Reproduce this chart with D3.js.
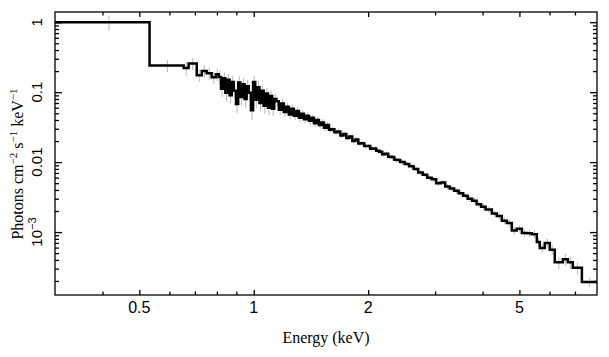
<!DOCTYPE html>
<html><head><meta charset="utf-8">
<script src="https://cdn.jsdelivr.net/npm/d3@7"></script>
<style>body{margin:0;background:#fff}svg{display:block}</style>
</head><body><svg id="c" width="609" height="357"></svg>
<script>
// Bin edges (keV)
const edges = [
 0.30, 0.532, 0.654, 0.674, 0.708, 0.730, 0.752, 0.775, 0.795,
 0.809, 0.820, 0.831, 0.842, 0.853, 0.864, 0.875, 0.886, 0.898, 0.910, 0.922, 0.934, 0.946, 0.958, 0.970, 0.983, 0.996, 1.009, 1.022, 1.035, 1.048, 1.062, 1.076, 1.090, 1.104, 1.118, 1.132,
 1.146, 1.164, 1.182, 1.200, 1.218, 1.237, 1.256, 1.275, 1.295, 1.315, 1.335, 1.355, 1.376, 1.397, 1.418, 1.440, 1.462, 1.484, 1.507, 1.530, 1.553, 1.577,
 1.601, 1.630, 1.660, 1.690, 1.721, 1.752, 1.784, 1.817, 1.850, 1.884, 1.918, 1.953, 1.989, 2.025, 2.062, 2.100, 2.139, 2.178, 2.218, 2.258, 2.300, 2.342, 2.385,
 2.428, 2.495, 2.564, 2.635, 2.708, 2.783, 2.860, 2.939, 3.020, 3.103, 3.189, 3.277, 3.367, 3.460, 3.556, 3.654, 3.755, 3.858, 3.965,
 4.074, 4.23, 4.36, 4.494, 4.633, 4.775, 4.92, 5.075, 5.23, 5.39, 5.556, 5.657, 5.83, 6.01, 6.195, 6.505, 6.705, 6.91, 7.30, 8.0
];
// Unfolded flux per bin (photons cm^-2 s^-1 keV^-1)
const flux = [
 1.0, 0.24, 0.222, 0.257, 0.175, 0.20, 0.187, 0.164, 0.18,
 0.165, 0.112, 0.158, 0.098, 0.150, 0.090, 0.140, 0.105, 0.068, 0.138, 0.085, 0.130, 0.080, 0.122, 0.098, 0.055, 0.140, 0.078, 0.118, 0.070, 0.105, 0.064, 0.096, 0.060, 0.088, 0.058, 0.080,
 0.074, 0.056, 0.069, 0.052, 0.062, 0.048, 0.058, 0.046, 0.054, 0.043, 0.049, 0.041, 0.046, 0.039, 0.043, 0.036, 0.040, 0.034, 0.037, 0.031, 0.034, 0.029,
 0.0295, 0.0268, 0.0275, 0.0240, 0.0252, 0.0222, 0.0232, 0.0200, 0.0210, 0.0185, 0.0186, 0.0170, 0.0170, 0.0155, 0.0156, 0.0145, 0.0141, 0.0130, 0.0132, 0.0119, 0.0118, 0.0108, 0.0107,
 0.0100, 0.0094, 0.0087, 0.0080, 0.0071, 0.0066, 0.0060, 0.0057, 0.0050, 0.0051, 0.0045, 0.0042, 0.0039, 0.0036, 0.0033, 0.0030, 0.0028, 0.0025, 0.0023,
 0.0021, 0.00185, 0.0017, 0.00145, 0.00135, 0.00105, 0.00112, 0.00097, 0.00096, 0.00093, 0.00072, 0.00059, 0.00070, 0.00056, 0.00037, 0.00041, 0.00037, 0.00031, 0.000193
];
// Relative 1-sigma errors per bin
const relErr = [
 0.25, 0.2, 0.22, 0.2, 0.2, 0.21, 0.2, 0.2, 0.2,
 0.22, 0.24, 0.22, 0.25, 0.22, 0.24, 0.22, 0.23, 0.26, 0.22, 0.24, 0.22, 0.24, 0.22, 0.23, 0.27, 0.22, 0.24, 0.22, 0.24, 0.22, 0.23, 0.21, 0.22, 0.2, 0.21, 0.2,
 0.15, 0.16, 0.14, 0.15, 0.14, 0.15, 0.14, 0.14, 0.13, 0.14, 0.13, 0.13, 0.12, 0.13, 0.12, 0.12, 0.11, 0.12, 0.11, 0.11, 0.11, 0.1,
 0.09, 0.09, 0.09, 0.08, 0.08, 0.08, 0.08, 0.08, 0.08, 0.08, 0.08, 0.08, 0.08, 0.08, 0.08, 0.08, 0.08, 0.08, 0.08, 0.08, 0.08, 0.08, 0.08,
 0.08, 0.08, 0.08, 0.08, 0.08, 0.08, 0.08, 0.08, 0.09, 0.08, 0.09, 0.09, 0.09, 0.09, 0.09, 0.1, 0.1, 0.1, 0.1,
 0.1, 0.1, 0.11, 0.11, 0.12, 0.12, 0.12, 0.13, 0.13, 0.13, 0.15, 0.15, 0.15, 0.16, 0.2, 0.2, 0.2, 0.2, 0.15
];
const xMajorTicks = [0.5, 1, 2, 5];
const xMinorTicks = [0.4, 0.6, 0.7, 0.8, 0.9, 3, 4, 6, 7];
const xTickLabels = ["0.5", "1", "2", "5"];
const yMajorTicks = [1, 0.1, 0.01, 0.001];
const yMinorTicks = [0.9,0.8,0.7,0.6,0.5,0.4,0.3,0.2, 0.09,0.08,0.07,0.06,0.05,0.04,0.03,0.02, 0.009,0.008,0.007,0.006,0.005,0.004,0.003,0.002, 0.0009,0.0008,0.0007,0.0006,0.0005,0.0004,0.0003,0.0002];
const yTickLabels = [["1"], ["0.1"], ["0.01"], ["10", "\u22123"]];
const xTitle = "Energy (keV)";

const L = 55, R = 597, T = 12, B = 295;
const svg = d3.select("#c");
const x = d3.scaleLog().domain([0.3, 8]).range([L, R]);
const y = d3.scaleLog().domain([1.26e-4, 1.4]).range([B, T]);

// error bars
const bins = flux.map((f, i) => ({ lo: edges[i], hi: edges[i + 1], f, e: relErr[i] }));
svg.append("g").selectAll("line").data(bins).join("line")
  .attr("x1", d => x((d.lo + d.hi) / 2)).attr("x2", d => x((d.lo + d.hi) / 2))
  .attr("y1", d => y(d.f * (1 + d.e))).attr("y2", d => y(Math.max(d.f * (1 - d.e), 1e-5)))
  .attr("stroke", "#b8b8b8").attr("stroke-width", 1);

// step line
const pts = bins.map(d => [d.lo, d.f]);
pts.push([edges[edges.length - 1], flux[flux.length - 1]]);
const line = d3.line().x(d => x(d[0])).y(d => y(d[1])).curve(d3.curveStepAfter);
svg.append("path").attr("d", line(pts)).attr("fill", "none")
  .attr("stroke", "#000").attr("stroke-width", 2.5).attr("stroke-linejoin", "miter");

// axes (ticks inward on all sides)
function tickAxis(axisFn, scale, vals, size, tr) {
  const g = svg.append("g").attr("transform", tr)
    .call(axisFn(scale).tickValues(vals).tickSize(size).tickFormat(""));
  g.select(".domain").remove();
  g.selectAll("line").attr("stroke", "#000").attr("stroke-width", 1.3);
  return g;
}
tickAxis(d3.axisBottom, x, xMajorTicks, -5, `translate(0,${B})`);
tickAxis(d3.axisBottom, x, xMinorTicks, -3.5, `translate(0,${B})`);
tickAxis(d3.axisTop, x, xMajorTicks, -5, `translate(0,${T})`);
tickAxis(d3.axisTop, x, xMinorTicks, -3.5, `translate(0,${T})`);
tickAxis(d3.axisLeft, y, yMajorTicks, -7, `translate(${L},0)`);
tickAxis(d3.axisLeft, y, yMinorTicks, -4, `translate(${L},0)`);
tickAxis(d3.axisRight, y, yMajorTicks, -7, `translate(${R},0)`);
tickAxis(d3.axisRight, y, yMinorTicks, -4, `translate(${R},0)`);

svg.append("rect").attr("x", L).attr("y", T).attr("width", R - L).attr("height", B - T)
  .attr("fill", "none").attr("stroke", "#000").attr("stroke-width", 1.3);

// x tick labels
svg.append("g").selectAll("text").data(xMajorTicks).join("text")
  .attr("x", d => x(d)).attr("y", 313).attr("text-anchor", "middle")
  .attr("font-family", "'Liberation Sans', Arial, sans-serif").attr("font-size", 16)
  .text((d, i) => xTickLabels[i]);

// y tick labels (rotated)
yMajorTicks.forEach((v, i) => {
  const t = svg.append("text")
    .attr("transform", `translate(42,${y(v)}) rotate(-90)`)
    .attr("text-anchor", "middle")
    .attr("font-family", "'Liberation Sans', Arial, sans-serif").attr("font-size", 15);
  const parts = yTickLabels[i];
  t.append("tspan").text(parts[0]);
  if (parts[1]) t.append("tspan").attr("dy", -6).attr("font-size", 11).text(parts[1]);
});

// axis titles
svg.append("text").attr("x", (L + R) / 2).attr("y", 343).attr("text-anchor", "middle")
  .attr("font-family", "'Liberation Serif', 'Times New Roman', serif").attr("font-size", 16)
  .text(xTitle);

const yt = svg.append("text").attr("transform", "translate(23,164) rotate(-90)")
  .attr("text-anchor", "middle")
  .attr("font-family", "'Liberation Serif', 'Times New Roman', serif").attr("font-size", 16);
[["Photons cm", ""], ["\u22122", "sup"], [" s", ""], ["\u22121", "sup"], [" keV", ""], ["\u22121", "sup"]].forEach(([s, k], i, arr) => {
  const ts = yt.append("tspan").text(s);
  if (k === "sup") ts.attr("dy", -6).attr("font-size", 11);
  else if (i > 0 && arr[i - 1][1] === "sup") ts.attr("dy", 6);
});
</script></body></html>
